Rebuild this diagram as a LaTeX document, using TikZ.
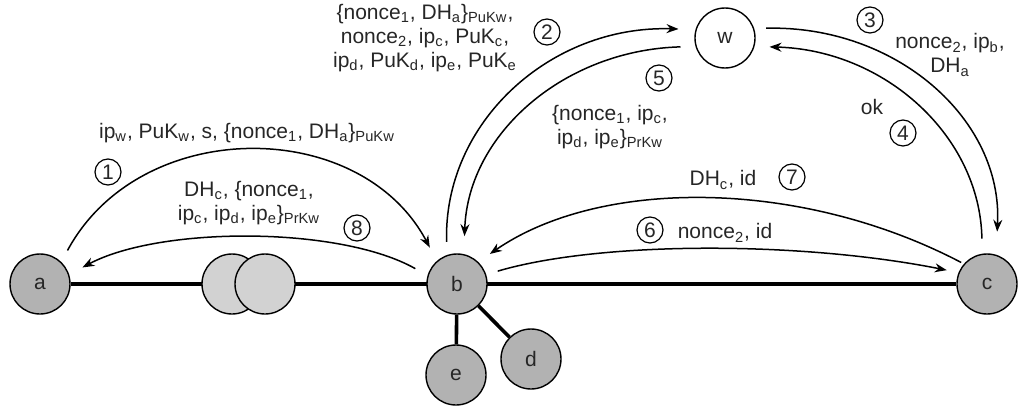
\documentclass[tikz,border=0pt]{standalone}
\usepackage{fontspec}
\setmainfont{Liberation Sans}
\usetikzlibrary{arrows.meta,backgrounds}
\begin{document}
\begin{tikzpicture}[x=0.5pt,y=-0.5pt,
  every node/.style={font=\fontsize{10.5}{12}\selectfont, text=black!85},
  host/.style={circle, draw=black, line width=0.7pt, fill=gray!60, minimum size=30pt, inner sep=0pt},
  relay/.style={host, fill=gray!35},
  server/.style={host, fill=white},
  link/.style={line width=2.4pt},
  sublink/.style={line width=1.8pt},
  msg/.style={line width=0.75pt, -{Stealth[length=6pt,width=4.5pt]}},
  num/.style={circle, draw=black, line width=0.6pt, minimum size=13pt, inner sep=0pt},
  lbl/.style={align=center, inner sep=0pt}
]
\useasboundingbox (0,0) rectangle (1018,407);

% hosts
\node[host] (a) at (40,284) {a};
\node[relay] (r1) at (232,284) {};
\node[relay] (r2) at (265,284) {};
\node[host] (b) at (457,284) {b};
\node[host] (c) at (987,284) {c};
\node[host] (d) at (531,359) {d};
\node[host] (e) at (456,375) {e};
\node[server] (w) at (725,38) {w};

% physical links
\begin{scope}[on background layer]
  \draw[link] (a) -- (c);
  \draw[sublink] (b) -- (e);
  \draw[sublink] (b) -- (d);
\end{scope}

% messages
\draw[msg, shorten <=6.5pt, shorten >=7.5pt] (a.46) .. controls (140,116) and (360,116) .. (b.131);
\draw[msg, shorten <=7pt, shorten >=7.5pt] (b.164) .. controls (340,226) and (160,226) .. (a.18);
\draw[msg, shorten <=6.5pt, shorten >=8.5pt] (b.109) .. controls (443,123) and (550,25) .. (w.164);
\draw[msg, shorten <=7.5pt, shorten >=9pt] (w.196) .. controls (564,50) and (468,134) .. (b.77);
\draw[msg, shorten <=6pt, shorten >=11.5pt] (w.18) .. controls (896,25) and (1003,119) .. (c.73);
\draw[msg, shorten <=7.5pt, shorten >=7.5pt] (c.99) .. controls (980,136) and (885,50) .. (w.-16);
\draw[msg, shorten <=1.5pt, shorten >=7pt] (c.139) .. controls (800,178) and (600,178) .. (b.46);
\draw[msg, shorten <=6pt, shorten >=6pt] (b.18) .. controls (600,241) and (800,241) .. (c.158);

% labels
\node[lbl] (t1) at (247,133) {ip\textsubscript{w}, PuK\textsubscript{w}, s, \{nonce\textsubscript{1}, DH\textsubscript{a}\}\textsubscript{PuKw}};
\node[num] (n1) at (108,172) {1};
\node[lbl] (t8) at (249,203) {DH\textsubscript{c}, \{nonce\textsubscript{1},\\ ip\textsubscript{c}, ip\textsubscript{d}, ip\textsubscript{e}\}\textsubscript{PrKw}};
\node[num] (n8) at (357,228) {8};
\node[lbl] (t2) at (425,38) {\{nonce\textsubscript{1}, DH\textsubscript{a}\}\textsubscript{PuKw},\\ nonce\textsubscript{2}, ip\textsubscript{c}, PuK\textsubscript{c},\\ ip\textsubscript{d}, PuK\textsubscript{d}, ip\textsubscript{e}, PuK\textsubscript{e}};
\node[num] (n2) at (547,32) {2};
\node[num] (n5) at (659,78) {5};
\node[lbl] (t5) at (610,127) {\{nonce\textsubscript{1}, ip\textsubscript{c},\\ ip\textsubscript{d}, ip\textsubscript{e}\}\textsubscript{PrKw}};
\node[num] (n3) at (870,20) {3};
\node[lbl] (t3) at (950,55) {nonce\textsubscript{2}, ip\textsubscript{b},\\ DH\textsubscript{a}};
\node[lbl] (t4) at (872,107) {ok};
\node[num] (n4) at (903,133) {4};
\node[lbl] (t7) at (723,180) {DH\textsubscript{c}, id};
\node[num] (n7) at (792,177) {7};
\node[num] (n6) at (650,230) {6};
\node[lbl] (t6) at (725,233) {nonce\textsubscript{2}, id};
\end{tikzpicture}
\end{document}
